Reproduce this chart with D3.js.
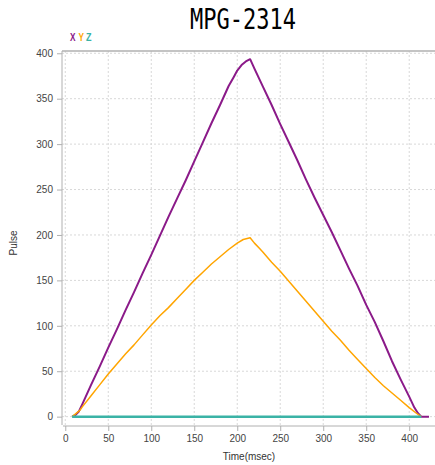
<!DOCTYPE html>
<html>
<head>
<meta charset="utf-8">
<script src="https://cdn.jsdelivr.net/npm/d3@7"></script>
<style>
html,body{margin:0;padding:0;background:#fff;}
svg{display:block;}
</style>
</head>
<body>
<div id="chart"></div>
<script>
// ---- data ----
const title = "MPG-2314";
const xTicks = [0, 50, 100, 150, 200, 250, 300, 350, 400];
const yTicks = [0, 50, 100, 150, 200, 250, 300, 350, 400];
const seriesNames = ["X", "Y", "Z"];
const seriesColors = ["#8B1A89", "#FFA500", "#3BB3A6"];

const xTime = [8, 12, 16, 20, 30, 40, 50, 60, 70, 80, 90, 100, 110, 120, 130, 140, 150, 160, 170, 180, 190, 196, 200, 205, 210, 215,
  220, 230, 240, 250, 260, 270, 280, 290, 300, 310, 320, 330, 340, 350, 360, 370, 380, 390, 400, 406, 410, 414, 423];
const xPulse = [0, 2, 6, 14, 35, 55, 76, 96, 117, 137, 158, 178, 199, 220, 240, 260, 281, 302, 323, 343, 364, 374, 381, 387, 391, 393.5,
  383, 363, 343, 322, 302, 282, 261, 241, 222, 203, 183, 163, 144, 123, 104, 83, 61, 41, 22, 10, 4, 0, 0];

const yTime = [8, 12, 17, 20, 30, 40, 50, 60, 70, 80, 90, 100, 110, 120, 130, 140, 150, 160, 170, 180, 190, 200, 207, 215,
  220, 226, 230, 240, 250, 260, 270, 280, 290, 300, 310, 320, 330, 340, 350, 360, 370, 380, 390, 400, 408, 414];
const yPulse = [0, 3, 7, 11, 23, 35, 47, 58, 69, 79, 90, 101, 111, 120, 130, 140, 150, 159, 168, 176, 184, 191, 195, 197,
  191, 185, 181, 170, 160, 149, 138, 127, 116, 105, 94, 84, 73, 63, 53, 43, 34, 26, 18, 10, 4, 0];

const zTime = [8, 414];
const zPulse = [0, 0];

// ---- layout ----
const W = 435, H = 465;
const mLeft = 62, mRight = 435, mTop = 51, mBottom = 426;

const svg = d3.select("#chart").append("svg").attr("width", W).attr("height", H);

const x = d3.scaleLinear().domain([-3.8, 430]).range([mLeft, mRight]);
const y = d3.scaleLinear().domain([-10.3, 402.5]).range([mBottom, mTop]);

// grid
const grid = svg.append("g");
grid.selectAll("line.v").data(xTicks).join("line")
  .attr("x1", d => x(d)).attr("x2", d => x(d)).attr("y1", mTop).attr("y2", mBottom)
  .attr("stroke", "#d8d8d8").attr("stroke-width", 1).attr("stroke-dasharray", "2,2");
grid.selectAll("line.h").data(yTicks).join("line")
  .attr("x1", mLeft).attr("x2", mRight).attr("y1", d => y(d)).attr("y2", d => y(d))
  .attr("stroke", "#d8d8d8").attr("stroke-width", 1).attr("stroke-dasharray", "2,2");

// frame top
svg.append("line").attr("x1", mLeft).attr("x2", mRight).attr("y1", mTop).attr("y2", mTop)
  .attr("stroke", "#b0b0b0").attr("stroke-width", 1.5);

// axes
const yAxis = d3.axisLeft(y).tickValues(yTicks).tickSize(5).tickPadding(4).tickSizeOuter(0);
const gy = svg.append("g").attr("transform", `translate(${mLeft},0)`).call(yAxis);
gy.select(".domain").attr("stroke", "#b0b0b0").attr("d", `M0,${mTop}V${mBottom - 1}`);
gy.selectAll(".tick line").attr("stroke", "#b0b0b0");
gy.selectAll(".tick text").attr("fill", "#444").style("font-family", "'Liberation Sans', Arial, sans-serif").style("font-size", "10px");

const xAxis = d3.axisBottom(x).tickValues(xTicks).tickSize(5).tickPadding(4).tickSizeOuter(0);
const gx = svg.append("g").attr("transform", `translate(0,${mBottom})`).call(xAxis);
gx.select(".domain").attr("stroke", "#b0b0b0").attr("d", `M${mLeft + 1},0H${mRight}`);
gx.selectAll(".tick line").attr("stroke", "#b0b0b0");
gx.selectAll(".tick text").attr("fill", "#444").style("font-family", "'Liberation Sans', Arial, sans-serif").style("font-size", "10px");

// axis titles
svg.append("text").attr("x", 249).attr("y", 460).attr("text-anchor", "middle")
  .attr("fill", "#333").style("font-family", "'Liberation Sans', Arial, sans-serif").style("font-size", "10px")
  .text("Time(msec)");
svg.append("text").attr("transform", "translate(17,243) rotate(-90)").attr("text-anchor", "middle")
  .attr("fill", "#333").style("font-family", "'Liberation Sans', Arial, sans-serif").style("font-size", "10px")
  .text("Pulse");

// title
svg.append("text").attr("x", 190).attr("y", 28.5)
  .attr("textLength", 106).attr("lengthAdjust", "spacingAndGlyphs")
  .attr("fill", "#000").style("font-family", "'DejaVu Sans Mono', monospace").style("font-size", "28px")
  .text(title);

// legend
const legendX = [70, 78.5, 86];
svg.append("g").selectAll("text").data(seriesNames).join("text")
  .attr("x", (d, i) => legendX[i]).attr("y", 40.5)
  .attr("fill", (d, i) => seriesColors[i])
  .attr("textLength", 5.5).attr("lengthAdjust", "spacingAndGlyphs")
  .style("font-family", "'Liberation Sans', Arial, sans-serif").style("font-size", "10px").style("font-weight", "bold")
  .text(d => d);

// lines
const line = d3.line().x(d => x(d[0])).y(d => y(d[1]));
const series = [
  { t: xTime, v: xPulse, color: seriesColors[0], w: 2 },
  { t: yTime, v: yPulse, color: seriesColors[1], w: 1.5 },
  { t: zTime, v: zPulse, color: seriesColors[2], w: 2.5 }
];
series.forEach(s => {
  svg.append("path").datum(s.t.map((t, i) => [t, s.v[i]]))
    .attr("fill", "none").attr("stroke", s.color).attr("stroke-width", s.w)
    .attr("stroke-linejoin", "round").attr("d", line);
});
</script>
</body>
</html>
